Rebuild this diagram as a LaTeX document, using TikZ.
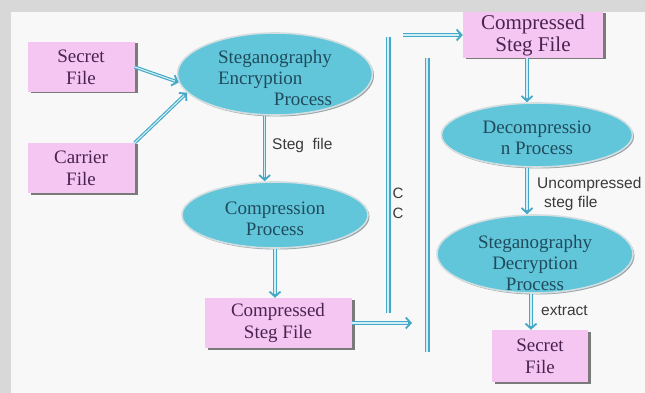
\documentclass[tikz,border=0pt]{standalone}
\usepackage{fontspec}
\setmainfont{Liberation Serif}
\newfontfamily\labelfont{Liberation Sans}
\usetikzlibrary{arrows.meta,shapes.geometric,shadows}
\definecolor{pinkfill}{HTML}{F5C6F1}
\definecolor{cyanfill}{HTML}{62C6DA}
\definecolor{ellline}{HTML}{D3DEE1}
\definecolor{ellshadow}{HTML}{98A4A8}
\definecolor{boxtext}{HTML}{4A2352}
\definecolor{elltext}{HTML}{1F4B5C}
\definecolor{barout}{HTML}{45A8C6}
\definecolor{barin}{HTML}{CFEFF6}
\definecolor{boxshadow}{HTML}{7A7A7A}
\definecolor{panel}{HTML}{F8F8F8}
\definecolor{frame}{HTML}{D8D8D8}
\definecolor{lbltext}{HTML}{3A3A3A}
\begin{document}
\begin{tikzpicture}[x=1pt,y=-1pt,
  filebox/.style={rectangle, fill=pinkfill, inner sep=0pt, align=center,
    text=boxtext, font=\fontsize{19}{22}\selectfont,
    drop shadow={shadow xshift=3pt, shadow yshift=-1.5pt, fill=boxshadow, opacity=1}},
  proc/.style={ellipse, fill=cyanfill, draw=ellline, line width=1.6pt, inner sep=0pt,
    drop shadow={shadow xshift=1.5pt, shadow yshift=-1.5pt, fill=ellshadow, opacity=1}},
  proctext/.style={text=elltext, font=\fontsize{19}{21}\selectfont, align=center, inner sep=0pt},
  lbl/.style={text=lbltext, font=\labelfont\fontsize{15.5}{18}\selectfont, inner sep=0pt, anchor=west},
  bar/.style={draw=barout, line width=1.3pt, double=barin, double distance=2.4pt},
  flow/.style={draw=barout, line width=3.4pt,
    -{Straight Barb[length=5pt, width=11pt, line width=1.8pt]},
    postaction={draw=barin, line width=1.1pt, shorten >=4pt, -}}
]
% background
\fill[frame] (0,0) rectangle (645,393);
\fill[panel] (11,12) rectangle (645,393);
\useasboundingbox (0,0) rectangle (645,393);

% left column
\node[filebox, minimum width=107pt, minimum height=50pt] (sec1) at (81,67) {Secret\\File};
\node[filebox, minimum width=107pt, minimum height=50pt] (car) at (81,168) {Carrier\\File};

\node[proc, minimum width=195pt, minimum height=82pt,
  label={[proctext, yshift=-6pt]center:{\begin{tabular}{@{}l@{}}Steganography\\Encryption\\\hfill Process\end{tabular}}}]
  (enc) at (275,74) {};
\node[proc, minimum width=186pt, minimum height=66pt,
  label={[proctext, yshift=-4pt]center:{Compression\\Process}}]
  (comp) at (275,215) {};
\node[filebox, minimum width=147pt, minimum height=50pt] (cbox1) at (278,323) {Compressed\\Steg File};

% channel bars
\coordinate (b1t) at (388,37);
\coordinate (b1b) at (388,313);
\coordinate (b2t) at (427,58);
\coordinate (b2b) at (427,352);
\draw[bar] (b1t) -- (b1b);
\draw[bar] (b2t) -- (b2b);
\node[text=lbltext, font=\labelfont\fontsize{15}{18}\selectfont, inner sep=0pt] (c1) at (398,193) {C};
\node[text=lbltext, font=\labelfont\fontsize{15}{18}\selectfont, inner sep=0pt] (c2) at (398,213) {C};
\coordinate (a1) at (403,35);
\coordinate (a2) at (412,323);

% right column
\node[filebox, minimum width=140pt, minimum height=46pt, font=\fontsize{21}{22}\selectfont] (cbox2) at (533,35) {Compressed\\Steg File};
\node[proc, minimum width=191pt, minimum height=64pt,
  label={[proctext, yshift=-3pt]center:{Decompressio\\n Process}}]
  (dec) at (537,135) {};
\node[proc, minimum width=196pt, minimum height=78pt,
  label={[proctext, yshift=-9pt]center:{Steganography\\Decryption\\Process}}]
  (decr) at (535,254) {};
\node[filebox, minimum width=96pt, minimum height=52pt] (sec2) at (540,356) {Secret\\File};

% connectors
\draw[flow] (sec1.east) -- (enc.185);
\draw[flow] (car.north east) -- (enc.192);
\draw[flow] (enc.256) -- (comp.north -| enc.256);
\draw[flow] (comp.south) -- (comp.south |- cbox1.north);
\draw[flow] (cbox1.east) -- (a2);
\draw[flow] (a1) -- (cbox2.west);
\draw[flow] ([xshift=-6pt]cbox2.south) -- ([xshift=-6pt]cbox2.south |- dec.north);
\draw[flow] ([xshift=-10pt]dec.south) -- ([xshift=-10pt]dec.south |- decr.north);
\draw[flow] ([xshift=-4pt]decr.south) -- ([xshift=-4pt]decr.south |- sec2.north);

% labels
\node[lbl] (lsteg) at (272,145) {Steg\ \ file};
\node[lbl] (lunc) at (537,184) {Uncompressed};
\node[lbl] (lsf) at (544,203) {steg file};
\node[lbl] (lext) at (541,311) {extract};

% top band
\fill[frame] (11,0) rectangle (645,12);
\end{tikzpicture}
\end{document}
